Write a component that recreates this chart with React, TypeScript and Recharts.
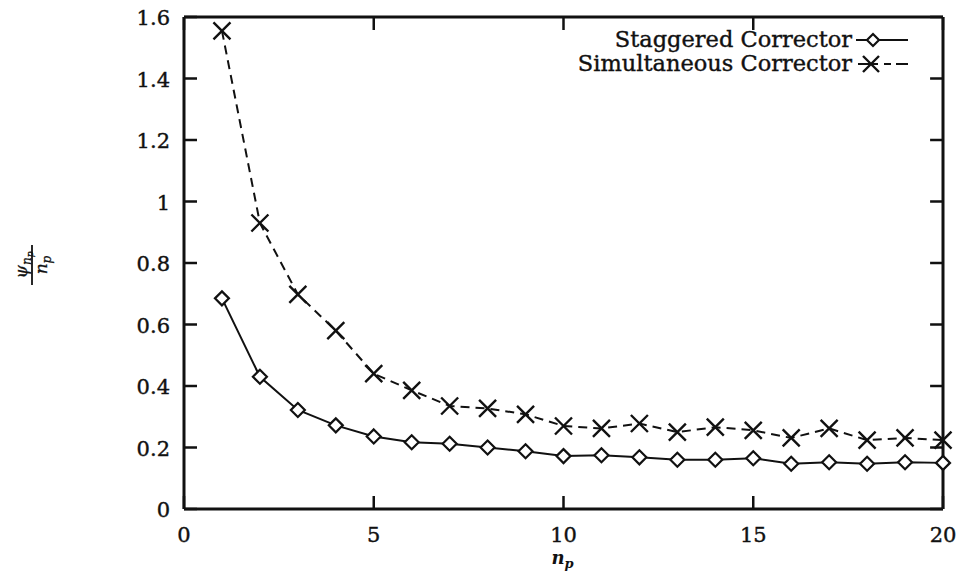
import React from 'react';
import { LineChart, Line, XAxis, YAxis, ReferenceLine } from 'recharts';

const nP = [1, 2, 3, 4, 5, 6, 7, 8, 9, 10, 11, 12, 13, 14, 15, 16, 17, 18, 19, 20];
const staggered = [0.685, 0.43, 0.322, 0.272, 0.236, 0.217, 0.212, 0.2, 0.188, 0.172, 0.175, 0.168, 0.16, 0.16, 0.165, 0.147, 0.152, 0.147, 0.152, 0.15];
const simultaneous = [1.555, 0.93, 0.698, 0.58, 0.44, 0.386, 0.335, 0.327, 0.308, 0.27, 0.262, 0.278, 0.25, 0.266, 0.256, 0.231, 0.262, 0.224, 0.231, 0.224];
const xTicks = [0, 5, 10, 15, 20];
const yTicks = [0, 0.2, 0.4, 0.6, 0.8, 1, 1.2, 1.4, 1.6];

const ink = '#111';
const serif = '"DejaVu Serif", "Liberation Serif", serif';
const TICK = 13; // ticks point inward, so tickSize is negative
const rightTickLen = 0.34; // same 13px, in x units, for the right side

const data = nP.map((n, i) => ({ n, stag: staggered[i], simul: simultaneous[i] }));

const textStyle = { fontFamily: serif, fontSize: 21, fill: ink, stroke: ink, strokeWidth: 0.4 };

// tick text positions come in TICK px inside the frame
const BottomTick = (p: any) => (
  <text x={p.x} y={p.y + TICK + 33} textAnchor="middle" {...textStyle}>
    {p.payload.value}
  </text>
);

const LeftTick = (p: any) => (
  <text x={p.x - TICK - 14} y={p.y + 8} textAnchor="end" {...textStyle}>
    {p.payload.value}
  </text>
);

const NoTick = () => <g />;

const diamond = (cx: number, cy: number, r: number) =>
  `M${cx},${cy - r}L${cx + r},${cy}L${cx},${cy + r}L${cx - r},${cy}Z`;

const DiamondDot = (props: any) => {
  const { cx, cy, index } = props;
  return <path key={`d-${index}`} d={diamond(cx, cy, 7)} fill="#fff" stroke={ink} strokeWidth={2.2} />;
};

const CrossDot = (props: any) => {
  const { cx, cy, index } = props;
  const r = 8.5;
  return (
    <path
      key={`c-${index}`}
      d={`M${cx - r},${cy - r}L${cx + r},${cy + r}M${cx - r},${cy + r}L${cx + r},${cy - r}`}
      stroke={ink}
      strokeWidth={2.4}
      fill="none"
    />
  );
};

const LegendBox = () => (
  <svg width={380} height={60} style={{ position: 'absolute', left: 560, top: 26 }}>
    <g {...textStyle} fontSize={22.5}>
      <text x={292} y={21} textAnchor="end">Staggered Corrector</text>
      <text x={292} y={45} textAnchor="end">Simultaneous Corrector</text>
    </g>
    <line x1={296} y1={14} x2={348} y2={14} stroke={ink} strokeWidth={2} />
    <path d={diamond(313, 14, 6)} fill="#fff" stroke={ink} strokeWidth={2.2} />
    <line x1={298} y1={38} x2={348} y2={38} stroke={ink} strokeWidth={2} strokeDasharray="20 6 7 5" />
    <path d="M303,30L319,46M303,46L319,30" stroke={ink} strokeWidth={2.4} />
  </svg>
);

const YLabel = () => (
  <svg width={64} height={80} style={{ position: 'absolute', left: 2, top: 225 }}>
    <g transform="rotate(-90 30 40)" fontFamily={serif} fill={ink} fontStyle="italic" stroke={ink} strokeWidth={0.3}>
      <text x={30} y={35} textAnchor="middle" fontSize={17}>
        ψ<tspan fontSize={12} dy={4}>n</tspan><tspan fontSize={9} dy={2}>p</tspan>
      </text>
      <line x1={10} y1={40} x2={50} y2={40} stroke={ink} strokeWidth={1.8} />
      <text x={30} y={55} textAnchor="middle" fontSize={17}>
        n<tspan fontSize={12} dy={4}>p</tspan>
      </text>
    </g>
  </svg>
);

const frame = { stroke: ink, strokeWidth: 3 };
const tickLine = { stroke: ink, strokeWidth: 2.5 };

export default function App() {
  return (
    <div style={{ position: 'absolute', left: 0, top: 0, width: 958, height: 576, background: '#fff' }}>
      <LineChart width={958} height={576} data={data} margin={{ top: 0, right: 0, bottom: 0, left: 0 }}>
        <XAxis
          xAxisId="b"
          dataKey="n"
          type="number"
          domain={[0, 20]}
          ticks={xTicks}
          height={67}
          tickSize={-TICK}
          tickMargin={0}
          tickLine={tickLine}
          axisLine={frame}
          tick={BottomTick}
          label={{
            value: 'np',
            content: ({ viewBox }: any) => (
              <text x={viewBox.x + viewBox.width / 2 - 1} y={viewBox.y + 55} textAnchor="middle" fontFamily={serif} fontStyle="italic" fontWeight="bold" fontSize={18} fill={ink}>
                n<tspan fontSize={13} dy={4}>p</tspan>
              </text>
            ),
          }}
        />
        <XAxis
          xAxisId="t"
          dataKey="n"
          type="number"
          orientation="top"
          domain={[0, 20]}
          ticks={xTicks}
          height={17}
          tickSize={-TICK}
          tickMargin={0}
          tickLine={tickLine}
          axisLine={frame}
          tick={NoTick}
        />
        <YAxis
          yAxisId="l"
          type="number"
          domain={[0, 1.6]}
          ticks={yTicks}
          width={184}
          tickSize={-TICK}
          tickMargin={0}
          tickLine={tickLine}
          axisLine={frame}
          tick={LeftTick}
        />
        <YAxis
          yAxisId="r"
          type="number"
          orientation="right"
          domain={[0, 1.6]}
          ticks={yTicks}
          width={15}
          tickLine={false}
          axisLine={frame}
          tick={NoTick}
        />
        {yTicks.map((t) => (
          <ReferenceLine
            key={`yr-${t}`}
            xAxisId="b"
            yAxisId="l"
            ifOverflow="visible"
            segment={[{ x: 20 - rightTickLen, y: t }, { x: 20, y: t }]}
            stroke={ink}
            strokeWidth={2.5}
          />
        ))}
        <Line
          xAxisId="b"
          yAxisId="l"
          dataKey="stag"
          name="Staggered Corrector"
          stroke={ink}
          strokeWidth={2}
          dot={DiamondDot}
          isAnimationActive={false}
        />
        <Line
          xAxisId="b"
          yAxisId="l"
          dataKey="simul"
          name="Simultaneous Corrector"
          stroke={ink}
          strokeWidth={2}
          strokeDasharray="9 6"
          dot={CrossDot}
          isAnimationActive={false}
        />
      </LineChart>
      <LegendBox />
      <YLabel />
    </div>
  );
}
